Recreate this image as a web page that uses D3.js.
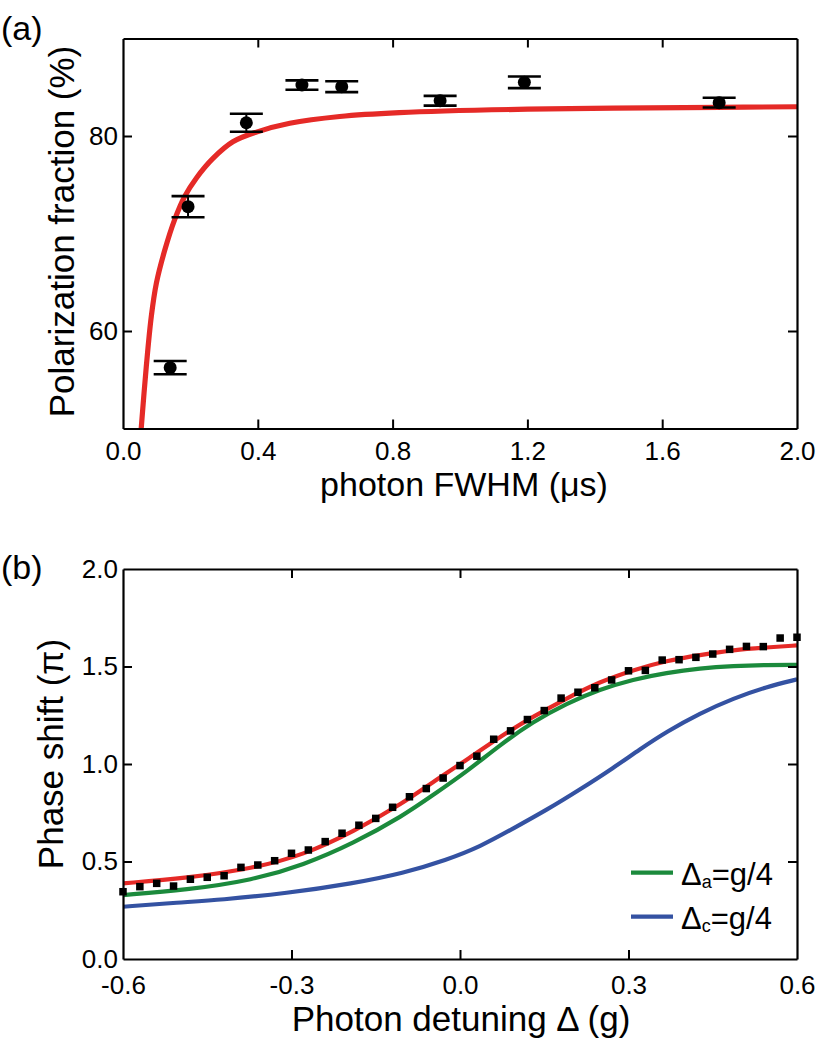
<!DOCTYPE html>
<html><head><meta charset="utf-8">
<script src="https://cdn.jsdelivr.net/npm/d3@7"></script>
<style>
body{margin:0;background:#fff}
svg{display:block}
text{font-family:"Liberation Sans",Arial,Helvetica,sans-serif;fill:#000}
</style>
</head><body>
<svg id="chart" width="830" height="1050"></svg>
<script>
// ---------- Panel (a) data ----------
const aFitX = [0.054, 0.069, 0.084, 0.099, 0.124, 0.153, 0.183, 0.218, 0.267, 0.326, 0.396, 0.495, 0.643, 0.82, 1.2, 1.77, 2.0];
const aFitY = [50.0, 56.3, 61.5, 64.9, 68.3, 71.4, 73.8, 75.7, 77.7, 79.4, 80.4, 81.3, 82.0, 82.4, 82.75, 82.94, 83.0];
const aPtX = [0.140, 0.193, 0.366, 0.531, 0.649, 0.941, 1.191, 1.769];
const aPtY = [56.24, 72.75, 81.36, 85.23, 85.06, 83.62, 85.51, 83.42];
const aPtErr = [0.68, 1.08, 0.92, 0.48, 0.56, 0.50, 0.60, 0.50];
const aXTickLabels = [0.0, 0.4, 0.8, 1.2, 1.6, 2.0];
const aYTickLabels = [60, 80];

// ---------- Panel (b) data ----------
const bDataX = [-0.60,-0.57,-0.54,-0.51,-0.48,-0.45,-0.42,-0.39,-0.36,-0.33,-0.30,-0.27,-0.24,-0.21,-0.18,-0.15,-0.12,-0.09,-0.06,-0.03,0.00,0.03,0.06,0.09,0.12,0.15,0.18,0.21,0.24,0.27,0.30,0.33,0.36,0.39,0.42,0.45,0.48,0.51,0.54,0.57,0.60];
const bDataY = [0.345,0.371,0.388,0.374,0.409,0.419,0.427,0.470,0.482,0.504,0.542,0.559,0.602,0.645,0.686,0.721,0.778,0.832,0.874,0.928,0.992,1.040,1.127,1.170,1.228,1.274,1.338,1.368,1.391,1.431,1.478,1.480,1.533,1.535,1.547,1.564,1.588,1.603,1.602,1.646,1.650];
const bRedX = [-0.6,-0.487,-0.368,-0.279,-0.19,-0.101,-0.048,0.012,0.071,0.13,0.19,0.249,0.308,0.368,0.427,0.487,0.546,0.6];
const bRedY = [0.388,0.414,0.465,0.533,0.653,0.80,0.909,1.021,1.14,1.243,1.337,1.422,1.482,1.530,1.559,1.585,1.598,1.608];
const bGreenX = [-0.6,-0.487,-0.368,-0.279,-0.19,-0.101,-0.048,0.012,0.071,0.13,0.19,0.249,0.308,0.368,0.427,0.487,0.546,0.6];
const bGreenY = [0.328,0.354,0.405,0.482,0.593,0.735,0.841,0.961,1.097,1.217,1.311,1.383,1.434,1.468,1.491,1.503,1.508,1.508];
const bBlueX = [-0.6,-0.5,-0.427,-0.309,-0.19,-0.101,-0.024,0.036,0.095,0.154,0.214,0.273,0.32,0.368,0.427,0.487,0.546,0.6];
const bBlueY = [0.268,0.29,0.303,0.337,0.388,0.44,0.508,0.576,0.670,0.764,0.87,0.98,1.075,1.166,1.26,1.337,1.396,1.434];
const bXTickLabels = [-0.6, -0.3, 0.0, 0.3, 0.6];
const bYTickLabels = [0.0, 0.5, 1.0, 1.5, 2.0];
const legendNames = [["Δ","a","=g/4"],["Δ","c","=g/4"]];

const RED = "#e52a27", GREEN = "#1b8a3c", BLUE = "#3452a2";

const svg = d3.select("#chart");

function frame(g, x, y, xTicks, yTicks, xFmt, yFmt, xPad, yPad) {
  const [x0, x1] = x.range(), [y0, y1] = y.range();
  const inner = xTicks.slice(1, -1), innerY = yTicks.filter(v => v > y.domain()[0] && v < y.domain()[1]);
  const bottom = g.append("g").attr("transform", `translate(0,${y0})`)
    .call(d3.axisBottom(x).tickValues(xTicks).tickFormat(xFmt).tickSizeInner(-9).tickSizeOuter(0).tickPadding(xPad));
  const top = g.append("g").attr("transform", `translate(0,${y1})`)
    .call(d3.axisTop(x).tickValues(inner).tickFormat("").tickSizeInner(-9).tickSizeOuter(0));
  const left = g.append("g").attr("transform", `translate(${x0},0)`)
    .call(d3.axisLeft(y).tickValues(yTicks).tickFormat(yFmt).tickSizeInner(-9).tickSizeOuter(0).tickPadding(yPad));
  const right = g.append("g").attr("transform", `translate(${x1},0)`)
    .call(d3.axisRight(y).tickValues(innerY).tickFormat("").tickSizeInner(-9).tickSizeOuter(0));
  [bottom, top, left, right].forEach(a => {
    a.select(".domain").attr("stroke", "#000").attr("stroke-width", 2.2);
    a.selectAll(".tick line").attr("stroke", "#000").attr("stroke-width", 2);
    a.selectAll(".tick text").attr("font-size", 26).attr("font-family", '"Liberation Sans",Arial,sans-serif').attr("fill", "#000");
  });
  bottom.selectAll(".tick line").filter(d => d === xTicks[0] || d === xTicks[xTicks.length-1]).remove();
  left.selectAll(".tick line").filter(d => d === y.domain()[0] || d === y.domain()[1]).remove();
}

// ---------- Panel (a) ----------
const xa = d3.scaleLinear().domain([0, 2]).range([123, 797]);
const ya = d3.scaleLinear().domain([50, 90]).range([428.5, 38.5]);
const ga = svg.append("g");
ga.append("clipPath").attr("id", "clipA").append("rect")
  .attr("x", 123).attr("y", 38.5).attr("width", 674).attr("height", 390);

const aFit = aFitX.map((v, i) => [v, aFitY[i]]);
ga.append("path").datum(aFit)
  .attr("clip-path", "url(#clipA)")
  .attr("fill", "none").attr("stroke", RED).attr("stroke-width", 5.2)
  .attr("d", d3.line().x(d => xa(d[0])).y(d => ya(d[1])).curve(d3.curveCatmullRom.alpha(0.5)));

const aPts = aPtX.map((v, i) => ({x: v, y: aPtY[i], e: aPtErr[i]}));
const eb = ga.append("g").selectAll("g").data(aPts).join("g");
eb.append("line").attr("x1", d => xa(d.x)).attr("x2", d => xa(d.x))
  .attr("y1", d => ya(d.y + d.e)).attr("y2", d => ya(d.y - d.e)).attr("stroke", "#000").attr("stroke-width", 2);
eb.append("line").attr("x1", d => xa(d.x) - 16.5).attr("x2", d => xa(d.x) + 16.5)
  .attr("y1", d => ya(d.y + d.e)).attr("y2", d => ya(d.y + d.e)).attr("stroke", "#000").attr("stroke-width", 2.6);
eb.append("line").attr("x1", d => xa(d.x) - 16.5).attr("x2", d => xa(d.x) + 16.5)
  .attr("y1", d => ya(d.y - d.e)).attr("y2", d => ya(d.y - d.e)).attr("stroke", "#000").attr("stroke-width", 2.6);
eb.append("circle").attr("cx", d => xa(d.x)).attr("cy", d => ya(d.y)).attr("r", 6.5).attr("fill", "#000");

frame(ga, xa, ya, aXTickLabels, aYTickLabels, d3.format(".1f"), d3.format("d"), 13.5, 5);

ga.append("text").attr("x", 464).attr("y", 496).attr("text-anchor", "middle")
  .attr("font-size", 34).text("photon FWHM (μs)");
ga.append("text").attr("transform", "translate(74,231.5) rotate(-90)").attr("text-anchor", "middle")
  .attr("font-size", 35).text("Polarization fraction (%)");
ga.append("text").attr("x", 1).attr("y", 40).attr("font-size", 34).text("(a)");

// ---------- Panel (b) ----------
const xb = d3.scaleLinear().domain([-0.6, 0.6]).range([123, 797]);
const yb = d3.scaleLinear().domain([0, 2]).range([959, 569]);
const gb = svg.append("g");
gb.append("clipPath").attr("id", "clipB").append("rect")
  .attr("x", 123).attr("y", 569).attr("width", 674).attr("height", 390);

const lineB = d3.line().x(d => xb(d[0])).y(d => yb(d[1])).curve(d3.curveBasis);
const curves = [
  {x: bBlueX, y: bBlueY, c: BLUE},
  {x: bGreenX, y: bGreenY, c: GREEN},
  {x: bRedX, y: bRedY, c: RED}
];
curves.forEach(cv => {
  gb.append("path").datum(cv.x.map((v, i) => [v, cv.y[i]]))
    .attr("clip-path", "url(#clipB)")
    .attr("fill", "none").attr("stroke", cv.c).attr("stroke-width", 4.2)
    .attr("d", lineB);
});

const sq = 7.5;
gb.append("g").selectAll("rect").data(bDataX.map((v, i) => [v, bDataY[i]])).join("rect")
  .attr("x", d => xb(d[0]) - sq / 2).attr("y", d => yb(d[1]) - sq / 2)
  .attr("width", sq).attr("height", sq).attr("fill", "#000");

frame(gb, xb, yb, bXTickLabels, bYTickLabels, d3.format(".1f"), d3.format(".1f"), 17, 5);
gb.selectAll(".tick text").text(function(){ return this.textContent.replace("−", "-"); });

gb.append("text").attr("x", 461).attr("y", 1031).attr("text-anchor", "middle")
  .attr("font-size", 35).text("Photon detuning Δ (g)");
gb.append("text").attr("transform", "translate(63,754) rotate(-90)").attr("text-anchor", "middle")
  .attr("font-size", 35).text("Phase shift (π)");
gb.append("text").attr("x", 1).attr("y", 579).attr("font-size", 34).text("(b)");

// legend
const legColors = [GREEN, BLUE];
const leg = gb.append("g").selectAll("g").data(legendNames).join("g")
  .attr("transform", (d, i) => `translate(631,${872.7 + i * 44})`);
leg.append("line").attr("x1", 0).attr("x2", 42).attr("y1", 0).attr("y2", 0)
  .attr("stroke", (d, i) => legColors[i]).attr("stroke-width", 4.2);
const lt = leg.append("text").attr("x", 50).attr("y", 12).attr("font-size", 31);
lt.append("tspan").text(d => d[0]);
lt.append("tspan").attr("font-size", 18).attr("dy", 3).text(d => d[1]);
lt.append("tspan").attr("dy", -3).text(d => d[2]);
</script>
</body></html>
